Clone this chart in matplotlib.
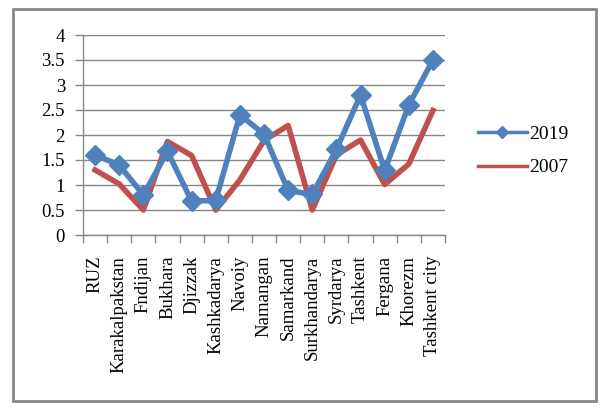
import matplotlib
matplotlib.use('Agg')
import matplotlib.pyplot as plt
from matplotlib.patches import Rectangle

plt.rcParams['font.family'] = ['Liberation Serif', 'DejaVu Serif']

regions = ['RUZ', 'Karakalpakstan', 'Fndijan', 'Bukhara', 'Djizzak', 'Kashkadarya',
           'Navoiy', 'Namangan', 'Samarkand', 'Surkhandarya', 'Syrdarya', 'Tashkent',
           'Fergana', 'Khorezm', 'Tashkent city']
values_2019 = [1.6, 1.4, 0.8, 1.67, 0.68, 0.69, 2.4, 2.02, 0.89, 0.81, 1.71, 2.8, 1.29, 2.6, 3.5]
values_2007 = [1.3, 1.02, 0.5, 1.87, 1.59, 0.5, 1.1, 1.89, 2.19, 0.5, 1.6, 1.9, 1.01, 1.42, 2.49]
y_ticks = [0, 0.5, 1, 1.5, 2, 2.5, 3, 3.5, 4]
y_labels = ['0', '0.5', '1', '1.5', '2', '2.5', '3', '3.5', '4']

W, H = 605, 411
fig = plt.figure(figsize=(W / 100, H / 100), dpi=100)
ax = fig.add_axes([83 / W, 1 - 235 / H, (445 - 83) / W, (235 - 35) / H])

x = list(range(len(regions)))
ax.plot(x, values_2019, color='#4F81BD', lw=4, marker='D', markersize=10,
        label='2019', zorder=4)
ax.plot(x, values_2007, color='#C0504D', lw=4, label='2007', zorder=3)

ax.set_xlim(-0.5, len(regions) - 0.5)
ax.set_ylim(0, 4)
ax.set_yticks(y_ticks)
ax.set_yticklabels(y_labels, fontsize=13.5)
ax.set_xticks(x)
ax.set_xticklabels(regions, rotation=90, fontsize=13.5)
ax.tick_params(axis='x', length=0, pad=15)
ax.set_xticks([i - 0.5 for i in range(len(regions) + 1)], minor=True)
ax.tick_params(axis='x', which='minor', length=6, color='#868686', width=1)
ax.tick_params(axis='y', length=6, color='#868686', width=1, pad=7)

ax.grid(axis='y', color='#868686', lw=1)
ax.set_axisbelow(True)
for s in ['top', 'right']:
    ax.spines[s].set_visible(False)
for s in ['left', 'bottom']:
    ax.spines[s].set_color('#868686')
    ax.spines[s].set_linewidth(1)

leg = ax.legend(loc='center left', bbox_to_anchor=(0.091, 0.42),
                bbox_transform=ax.transAxes, frameon=False,
                fontsize=14, handlelength=2.5, handletextpad=0.15, labelspacing=0.8,
                borderpad=0, borderaxespad=0)
leg.set_bbox_to_anchor((1.091, 0.42), transform=ax.transAxes)
for ln in leg.get_lines():
    ln.set_linewidth(2.5)
    ln.set_markersize(6)

fig.patches.append(Rectangle((13 / W, 1 - 401 / H), (596 - 13) / W, (401 - 9) / H,
                             transform=fig.transFigure, fill=False,
                             edgecolor='#888888', lw=2))

fig.savefig('out.png', dpi=100)
